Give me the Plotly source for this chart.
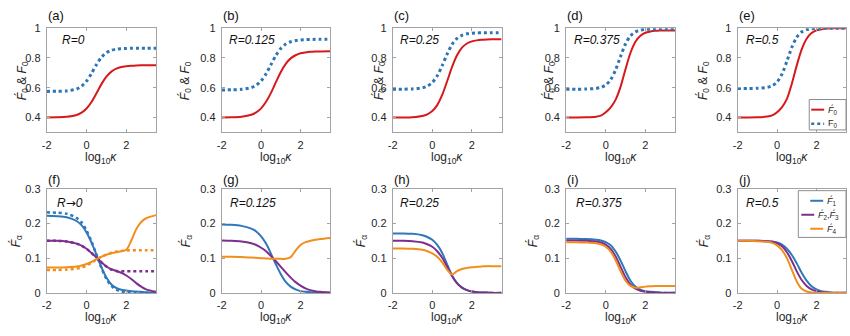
import plotly.graph_objects as go

# log10(kappa) sample points shared by every curve
LOG_K = [-2, -1.5, -1, -0.5, -0.25, 0, 0.25, 0.5, 0.75, 1, 1.25, 1.5, 1.75,
         2, 2.25, 2.5, 2.75, 3, 3.5]

# ---- top row: F0' (solid) and F0 (dotted) ----
F0P_A = [0.400, 0.401, 0.404, 0.416, 0.432, 0.460, 0.504, 0.562, 0.624, 0.674, 0.708, 0.728, 0.739, 0.744, 0.747, 0.749, 0.750, 0.750, 0.750]
F0_A = [0.575, 0.576, 0.578, 0.591, 0.610, 0.644, 0.696, 0.755, 0.804, 0.835, 0.851, 0.859, 0.862, 0.864, 0.865, 0.865, 0.865, 0.865, 0.865]
F0P_B = [0.400, 0.401, 0.405, 0.418, 0.434, 0.461, 0.505, 0.565, 0.637, 0.706, 0.760, 0.797, 0.818, 0.831, 0.837, 0.841, 0.843, 0.844, 0.845]
F0_B = [0.585, 0.586, 0.589, 0.601, 0.617, 0.646, 0.693, 0.755, 0.817, 0.864, 0.893, 0.909, 0.917, 0.921, 0.923, 0.924, 0.925, 0.925, 0.925]
F0P_C = [0.400, 0.400, 0.402, 0.410, 0.421, 0.443, 0.483, 0.551, 0.643, 0.740, 0.818, 0.869, 0.897, 0.911, 0.918, 0.922, 0.924, 0.925, 0.925]
F0_C = [0.590, 0.590, 0.592, 0.599, 0.611, 0.635, 0.680, 0.748, 0.826, 0.891, 0.931, 0.952, 0.962, 0.966, 0.968, 0.969, 0.970, 0.970, 0.970]
F0P_D = [0.400, 0.400, 0.401, 0.405, 0.412, 0.435, 0.468, 0.520, 0.607, 0.726, 0.835, 0.909, 0.949, 0.969, 0.977, 0.982, 0.984, 0.985, 0.985]
F0_D = [0.590, 0.590, 0.591, 0.595, 0.602, 0.618, 0.654, 0.721, 0.811, 0.895, 0.948, 0.975, 0.987, 0.992, 0.993, 0.994, 0.995, 0.995, 0.995]
F0P_E = [0.400, 0.400, 0.401, 0.406, 0.414, 0.435, 0.470, 0.525, 0.627, 0.750, 0.858, 0.929, 0.967, 0.985, 0.992, 0.997, 0.999, 1.000, 1.000]
F0_E = [0.595, 0.595, 0.596, 0.602, 0.613, 0.638, 0.692, 0.778, 0.872, 0.939, 0.974, 0.990, 0.996, 0.998, 0.999, 1.000, 1.000, 1.000, 1.000]

# ---- bottom row: F1', F2'=F3', F4' ----
F1_F = [0.222, 0.221, 0.218, 0.207, 0.195, 0.174, 0.145, 0.110, 0.074, 0.044, 0.024, 0.014, 0.009, 0.007, 0.005, 0.004, 0.003, 0.002, 0.001]
F23_F = [0.150, 0.150, 0.148, 0.142, 0.136, 0.127, 0.115, 0.102, 0.088, 0.076, 0.068, 0.063, 0.058, 0.050, 0.040, 0.028, 0.018, 0.010, 0.003]
F4_F = [0.073, 0.073, 0.074, 0.076, 0.079, 0.083, 0.089, 0.097, 0.104, 0.110, 0.114, 0.117, 0.120, 0.124, 0.150, 0.183, 0.204, 0.215, 0.224]
# R -> 0 limit (dotted)
F1_F_LIM = [0.232, 0.231, 0.228, 0.216, 0.203, 0.180, 0.148, 0.110, 0.072, 0.040, 0.020, 0.009, 0.004, 0.002, 0.001, 0.000, 0.000, 0.000, 0.000]
F23_F_LIM = [0.150, 0.150, 0.148, 0.142, 0.136, 0.127, 0.115, 0.102, 0.088, 0.076, 0.067, 0.063, 0.062, 0.062, 0.062, 0.062, 0.062, 0.062, 0.062]
F4_F_LIM = [0.066, 0.066, 0.067, 0.070, 0.073, 0.079, 0.087, 0.096, 0.104, 0.110, 0.115, 0.119, 0.121, 0.122, 0.123, 0.123, 0.123, 0.123, 0.123]

F1_G = [0.197, 0.196, 0.193, 0.185, 0.177, 0.163, 0.142, 0.113, 0.082, 0.054, 0.032, 0.018, 0.010, 0.005, 0.003, 0.002, 0.001, 0.000, 0.000]
F23_G = [0.151, 0.150, 0.148, 0.143, 0.138, 0.130, 0.120, 0.106, 0.091, 0.075, 0.059, 0.044, 0.031, 0.021, 0.013, 0.008, 0.005, 0.003, 0.001]
F4_G = [0.104, 0.104, 0.103, 0.102, 0.101, 0.100, 0.099, 0.098, 0.098, 0.098, 0.098, 0.103, 0.122, 0.138, 0.146, 0.150, 0.153, 0.155, 0.158]

F1_H = [0.171, 0.171, 0.170, 0.166, 0.161, 0.153, 0.138, 0.115, 0.082, 0.050, 0.028, 0.015, 0.008, 0.004, 0.002, 0.001, 0.001, 0.000, 0.000]
F23_H = [0.150, 0.150, 0.149, 0.145, 0.140, 0.133, 0.120, 0.101, 0.075, 0.048, 0.028, 0.015, 0.008, 0.004, 0.002, 0.001, 0.001, 0.000, 0.000]
F4_H = [0.128, 0.128, 0.127, 0.124, 0.120, 0.114, 0.104, 0.088, 0.067, 0.053, 0.063, 0.069, 0.072, 0.074, 0.075, 0.076, 0.077, 0.077, 0.077]

F1_I = [0.156, 0.156, 0.155, 0.153, 0.151, 0.146, 0.137, 0.119, 0.093, 0.062, 0.035, 0.018, 0.009, 0.005, 0.003, 0.002, 0.001, 0.000, 0.000]
F23_I = [0.151, 0.151, 0.150, 0.148, 0.145, 0.139, 0.127, 0.105, 0.075, 0.045, 0.024, 0.012, 0.006, 0.003, 0.002, 0.001, 0.000, 0.000, 0.000]
F4_I = [0.146, 0.146, 0.145, 0.143, 0.140, 0.133, 0.119, 0.094, 0.062, 0.035, 0.020, 0.015, 0.016, 0.018, 0.019, 0.020, 0.020, 0.020, 0.020]

F1_J = [0.150, 0.150, 0.150, 0.149, 0.148, 0.145, 0.139, 0.127, 0.109, 0.085, 0.058, 0.035, 0.019, 0.010, 0.005, 0.003, 0.001, 0.000, 0.000]
F23_J = [0.150, 0.150, 0.150, 0.149, 0.147, 0.143, 0.134, 0.117, 0.092, 0.062, 0.037, 0.020, 0.010, 0.005, 0.003, 0.001, 0.000, 0.000, 0.000]
F4_J = [0.150, 0.150, 0.149, 0.147, 0.144, 0.137, 0.123, 0.100, 0.066, 0.033, 0.012, 0.004, 0.001, 0.000, 0.000, 0.000, 0.000, 0.000, 0.000]

TOP_TAGS = ["(a)", "(b)", "(c)", "(d)", "(e)"]
BOTTOM_TAGS = ["(f)", "(g)", "(h)", "(i)", "(j)"]
TOP_R = ["R=0", "R=0.125", "R=0.25", "R=0.375", "R=0.5"]
BOTTOM_R = ["R<span style=\"font-family:DejaVu Sans\">\u2192</span>0",
            "R=0.125", "R=0.25", "R=0.375", "R=0.5"]

TOP_YTICKS = [0.4, 0.6, 0.8, 1]
TOP_YTEXT = ["0.4", "0.6", "0.8", "1"]
BOTTOM_YTICKS = [0, 0.1, 0.2, 0.3]
BOTTOM_YTEXT = ["0", "0.1", "0.2", "0.3"]
XTICKS = [-2, 0, 2]
XTEXT = ["-2", "0", "2"]

TOP_KEY_NAMES = ["<i>F\u0301</i><sub>0</sub>", "F<sub>0</sub>"]
BOTTOM_KEY_NAMES = ["<i>F\u0301</i><sub>1</sub>",
                    "<i>F\u0301</i><sub>2</sub>,<i>F\u0301</i><sub>3</sub>",
                    "<i>F\u0301</i><sub>4</sub>"]

# ---- styling / layout (pixel geometry of the 850x336 canvas) ----
W, H = 850, 336
FONT = "Liberation Sans, Arial, sans-serif"
RED = "#D7191C"
BLUE_DOT = "#2E75B6"
BLUE = "#2F78BB"
PURPLE = "#7E2F8E"
ORANGE = "#F28E1C"
FRAME = "#A3A3A3"
TXT = "#262626"

COL_L = [42, 218, 390, 564.5, 737]
COL_R = [152, 327, 499.5, 674, 846]
TOP_ROW = (23, 131)
BOT_ROW = (189.5, 297.5)
TOP_YTITLE_X = [17, 181, 376, 547, 702]
BOT_YTITLE_X = [11, 182, 358, 531, 703]
TOP_R_X = [55, 223, 395, 570, 743]
BOT_R_X = [50, 224, 395, 572, 743]


def px(x):
    return x / W


def py(y):
    return 1 - y / H


fig = go.Figure()

top_sets = [(F0P_A, F0_A), (F0P_B, F0_B), (F0P_C, F0_C), (F0P_D, F0_D), (F0P_E, F0_E)]
bot_sets = [(F1_F, F23_F, F4_F), (F1_G, F23_G, F4_G), (F1_H, F23_H, F4_H),
            (F1_I, F23_I, F4_I), (F1_J, F23_J, F4_J)]

line_kw = dict(shape="spline", smoothing=0.8)

for i, (fp, f) in enumerate(top_sets):
    ax = "" if i == 0 else str(i + 1)
    fig.add_trace(go.Scatter(x=LOG_K, y=fp, mode="lines", xaxis="x" + ax, yaxis="y" + ax,
                             line=dict(color=RED, width=2, **line_kw),
                             name=TOP_KEY_NAMES[0], showlegend=False))
    fig.add_trace(go.Scatter(x=LOG_K, y=f, mode="lines", xaxis="x" + ax, yaxis="y" + ax,
                             line=dict(color=BLUE_DOT, width=3, dash="dot", **line_kw),
                             name=TOP_KEY_NAMES[1], showlegend=False))

for i, (f1, f23, f4) in enumerate(bot_sets):
    ax = str(i + 6)
    if i == 0:
        for lim, col in ((F1_F_LIM, BLUE), (F23_F_LIM, PURPLE), (F4_F_LIM, ORANGE)):
            fig.add_trace(go.Scatter(x=LOG_K, y=lim, mode="lines", xaxis="x" + ax, yaxis="y" + ax,
                                     line=dict(color=col, width=2.5, dash="dot", **line_kw),
                                     showlegend=False))
    for vals, col, nm in zip((f1, f23, f4), (BLUE, PURPLE, ORANGE), BOTTOM_KEY_NAMES):
        fig.add_trace(go.Scatter(x=LOG_K, y=vals, mode="lines", xaxis="x" + ax, yaxis="y" + ax,
                                 line=dict(color=col, width=2, **line_kw),
                                 name=nm, showlegend=False))

axis_common = dict(showline=True, linecolor=FRAME, linewidth=1, mirror="ticks",
                   ticks="inside", ticklen=3, tickcolor=FRAME, showgrid=False,
                   zeroline=False, tickfont=dict(family=FONT, size=11, color=TXT),
                   fixedrange=True)

layout = {}
annotations = []
shapes = []
for row in range(2):
    top, bot = TOP_ROW if row == 0 else BOT_ROW
    for c in range(5):
        n = row * 5 + c + 1
        key = "" if n == 1 else str(n)
        layout["xaxis" + key] = dict(axis_common, domain=[px(COL_L[c]), px(COL_R[c])],
                                     anchor="y" + key, range=[-2, 3.5],
                                     tickvals=XTICKS, ticktext=XTEXT, ticklabelstandoff=2)
        if row == 0:
            yv, yt, yr = TOP_YTICKS, TOP_YTEXT, [0.3, 1]
        else:
            yv, yt, yr = BOTTOM_YTICKS, BOTTOM_YTEXT, [0, 0.3]
        layout["yaxis" + key] = dict(axis_common, domain=[py(bot), py(top)],
                                     anchor="x" + key, range=yr,
                                     tickvals=yv, ticktext=yt, ticklabelstandoff=3)

        tag = TOP_TAGS[c] if row == 0 else BOTTOM_TAGS[c]
        annotations.append(dict(text=tag, x=px(COL_L[c] - 1), y=py(10 if row == 0 else 180),
                                xref="paper", yref="paper", xanchor="left", yanchor="middle",
                                showarrow=False, font=dict(family=FONT, size=13, color="#111")))
        rtxt = TOP_R[c] if row == 0 else BOTTOM_R[c]
        rx = TOP_R_X[c] if row == 0 else BOT_R_X[c]
        annotations.append(dict(text="<i>" + rtxt + "</i>", x=px(rx), y=py(35 if row == 0 else 204),
                                xref="paper", yref="paper", xanchor="left", yanchor="middle",
                                showarrow=False, font=dict(family=FONT, size=12, color="#111")))
        # axis titles
        cx = (COL_L[c] + COL_R[c]) / 2
        annotations.append(dict(text="log<sub>10</sub><i>\u03ba</i>", x=px(cx),
                                y=py(158 if row == 0 else 324),
                                xref="paper", yref="paper", xanchor="center", yanchor="middle",
                                showarrow=False, font=dict(family=FONT, size=12, color=TXT)))
        if row == 0:
            ytxt = "<i>F\u0301</i><sub>0</sub> & <i>F</i><sub>0</sub>"
            yx, yy = TOP_YTITLE_X[c], 77
        else:
            ytxt = "<i>F\u0301</i><sub>\u03b1</sub>"
            yx, yy = BOT_YTITLE_X[c], 244
        annotations.append(dict(text=ytxt, x=px(yx), y=py(yy), textangle=-90,
                                xref="paper", yref="paper", xanchor="center", yanchor="middle",
                                showarrow=False, font=dict(family=FONT, size=12, color=TXT)))


def add_key_box(x0, y0, x1, y1, rows):
    """Boxed key: rows = [(label, colour, dash, y_center, line_x0, line_x1, text_x)]."""
    shapes.append(dict(type="rect", xref="paper", yref="paper",
                       x0=px(x0), x1=px(x1), y0=py(y1), y1=py(y0),
                       line=dict(color="#8C8C8C", width=1), fillcolor="white", layer="above"))
    for label, col, dash, yc, lx0, lx1, tx in rows:
        shapes.append(dict(type="line", xref="paper", yref="paper",
                           x0=px(lx0), x1=px(lx1), y0=py(yc), y1=py(yc), layer="above",
                           line=dict(color=col, width=2.5 if dash == "dot" else 2, dash=dash)))
        annotations.append(dict(text=label, x=px(tx), y=py(yc), xref="paper", yref="paper",
                                xanchor="left", yanchor="middle", showarrow=False,
                                font=dict(family=FONT, size=9, color=TXT)))


add_key_box(809, 97, 846, 128.5, [
    (TOP_KEY_NAMES[0], RED, "solid", 107.5, 811, 824, 826),
    (TOP_KEY_NAMES[1], BLUE_DOT, "dot", 122, 811, 824, 826),
])
add_key_box(798, 191.5, 846, 240, [
    (BOTTOM_KEY_NAMES[0], BLUE, "solid", 202, 810, 823, 825),
    (BOTTOM_KEY_NAMES[1], PURPLE, "solid", 216.5, 801, 814, 816),
    (BOTTOM_KEY_NAMES[2], ORANGE, "solid", 231, 810, 823, 825),
])

fig.update_layout(
    **layout,
    annotations=annotations,
    shapes=shapes,
    width=W, height=H,
    margin=dict(l=0, r=0, t=0, b=0),
    paper_bgcolor="white", plot_bgcolor="white",
    font=dict(family=FONT, color=TXT),
    showlegend=False,
)

fig.write_html("out.html")
